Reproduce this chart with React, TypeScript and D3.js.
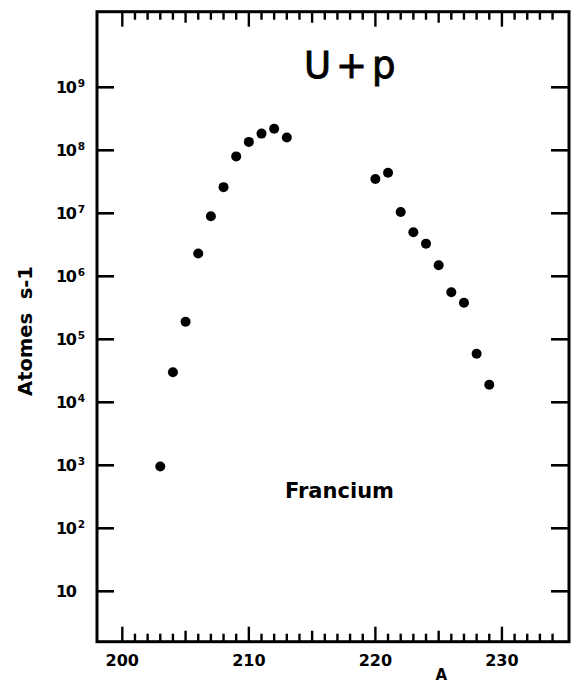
import React, { useEffect, useRef } from 'react';
import * as d3 from 'd3';

// mass number A and yield (atoms per second)
const massNumbers = [203, 204, 205, 206, 207, 208, 209, 210, 211, 212, 213, 220, 221, 222, 223, 224, 225, 226, 227, 228, 229];
const yields = [9.6e2, 3.0e4, 1.9e5, 2.3e6, 9.0e6, 2.6e7, 8.0e7, 1.36e8, 1.84e8, 2.2e8, 1.6e8, 3.5e7, 4.4e7, 1.05e7, 5.0e6, 3.3e6, 1.5e6, 5.6e5, 3.8e5, 5.9e4, 1.9e4];

const xTickLabels = [200, 210, 220, 230];
const yExponents = [1, 2, 3, 4, 5, 6, 7, 8, 9];

export default function App() {
    const svgRef = useRef<SVGSVGElement>(null);

    useEffect(() => {
        if (!svgRef.current) return;
        const width = 576;
        const height = 684;
        const left = 97, right = 569, top = 11.7, bottom = 641.7;

        d3.select(svgRef.current).selectAll('*').remove();
        const svg = d3.select(svgRef.current)
            .attr('width', width)
            .attr('height', height);

        const x = d3.scaleLinear().domain([198, 235.3]).range([left, right]);
        const y = d3.scaleLog().domain([Math.pow(10, 0.2), Math.pow(10, 10.2)]).range([bottom, top]);

        const font = '"DejaVu Sans", sans-serif';

        // frame
        svg.append('rect')
            .attr('x', left).attr('y', top)
            .attr('width', right - left).attr('height', bottom - top)
            .attr('fill', 'none')
            .attr('stroke', '#000')
            .attr('stroke-width', 3);

        // minor ticks every unit on top and bottom
        const units = d3.range(200, 235);
        const tickLen = (v: number) => (v % 10 === 0 ? 15 : v % 5 === 0 ? 11 : 8);
        svg.append('g').selectAll('line')
            .data(units)
            .join('line')
            .attr('x1', d => x(d)).attr('x2', d => x(d))
            .attr('y1', bottom).attr('y2', d => bottom - tickLen(d))
            .attr('stroke', '#000').attr('stroke-width', 2.4);
        svg.append('g').selectAll('line')
            .data(units)
            .join('line')
            .attr('x1', d => x(d)).attr('x2', d => x(d))
            .attr('y1', top).attr('y2', d => top + tickLen(d))
            .attr('stroke', '#000').attr('stroke-width', 2.4);

        // y ticks left and right
        const decades = yExponents.map(k => Math.pow(10, k));
        svg.append('g').selectAll('line')
            .data(decades)
            .join('line')
            .attr('x1', left).attr('x2', left + 17)
            .attr('y1', d => y(d)).attr('y2', d => y(d))
            .attr('stroke', '#000').attr('stroke-width', 2.6);
        svg.append('g').selectAll('line')
            .data(decades)
            .join('line')
            .attr('x1', right).attr('x2', right - 18)
            .attr('y1', d => y(d)).attr('y2', d => y(d))
            .attr('stroke', '#000').attr('stroke-width', 2.6);

        // x tick labels
        svg.append('g').selectAll('text')
            .data(xTickLabels)
            .join('text')
            .attr('x', d => x(d))
            .attr('y', 666)
            .attr('text-anchor', 'middle')
            .attr('font-family', font)
            .attr('font-weight', 'bold')
            .attr('font-size', 16)
            .text(d => d);

        svg.append('text')
            .attr('x', x(225.2))
            .attr('y', 680)
            .attr('text-anchor', 'middle')
            .attr('font-family', font)
            .attr('font-weight', 'bold')
            .attr('font-size', 15)
            .text('A');

        // y tick labels: 10, 10^2 ...
        const yl = svg.append('g').selectAll('text')
            .data(yExponents)
            .join('text')
            .attr('x', 56)
            .attr('y', k => y(Math.pow(10, k)) + 6)
            .attr('font-family', font)
            .attr('font-weight', 'bold')
            .attr('font-size', 16)
            .attr('letter-spacing', -1.5);
        yl.append('tspan').text('10');
        yl.filter(k => k > 1)
            .append('tspan')
            .attr('dx', 2.5)
            .attr('dy', -6.5)
            .attr('font-size', 10.5)
            .text(k => k);

        // y axis title
        svg.append('text')
            .attr('transform', `translate(32,${331}) rotate(-90)`)
            .attr('text-anchor', 'middle')
            .attr('font-family', font)
            .attr('font-weight', 'bold')
            .attr('font-size', 19.5)
            .attr('xml:space', 'preserve')
            .text('Atomes  s-1');

        // annotations
        svg.append('text')
            .attr('x', 304)
            .attr('y', 78)
            .attr('font-family', font)
            .attr('font-size', 37)
            .attr('stroke', '#000')
            .attr('stroke-width', 0.9)
            .attr('letter-spacing', 5)
            .text('U+p');

        svg.append('text')
            .attr('x', 285)
            .attr('y', 498)
            .attr('font-family', font)
            .attr('font-weight', 'bold')
            .attr('font-size', 21)
            .text('Francium');

        // data points
        svg.append('g').selectAll('circle')
            .data(massNumbers)
            .join('circle')
            .attr('cx', d => x(d))
            .attr('cy', (d, i) => y(yields[i]))
            .attr('r', 5)
            .attr('fill', '#000');
    }, []);

    return (
        <div style={{ position: 'absolute', left: 0, top: 0, background: '#fff' }}>
            <svg ref={svgRef} style={{ display: 'block' }}></svg>
        </div>
    );
}
